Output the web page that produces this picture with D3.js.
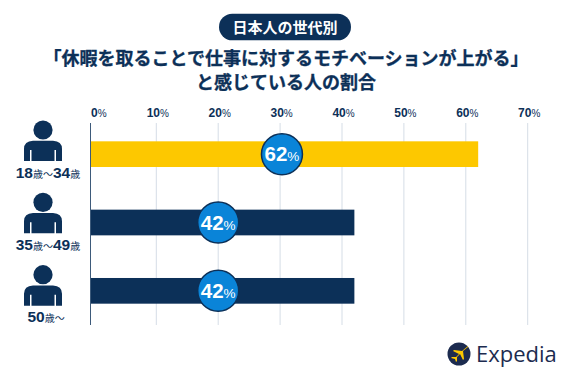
<!DOCTYPE html>
<html>
<head>
<meta charset="utf-8">
<script src="https://cdn.jsdelivr.net/npm/d3@7"></script>
<style>
  html, body { margin: 0; padding: 0; background: #fff; }
  svg { display: block; }
  text { font-family: "Liberation Sans", "Noto Sans CJK JP", sans-serif; }
  .jp { font-family: "Noto Sans CJK JP", sans-serif; font-weight: 700; }
</style>
</head>
<body>
<svg id="chart" width="570" height="380"></svg>
<script>
const groups = [
  [{t: '18', big: true}, {t: '歳'}, {t: '〜'}, {t: '34', big: true}, {t: '歳'}],
  [{t: '35', big: true}, {t: '歳'}, {t: '〜'}, {t: '49', big: true}, {t: '歳'}],
  [{t: '50', big: true}, {t: '歳'}, {t: '〜'}]
];
const groupIds = ['a', 'b', 'c'];
const values = [62, 42, 42];
const badgeAt = [30.3, 20, 20];
const barColors = ['#fdc800', '#0c3058', '#0c3058'];
const ticks = [0, 10, 20, 30, 40, 50, 60, 70];

const pillText = '日本人の世代別';
const titleLines = ['「休暇を取ることで仕事に対するモチベーションが上がる」', 'と感じている人の割合'];

const navy = '#0c3058';
const svg = d3.select('#chart');

// the 0% line sits a bit left of where it would be, so the first step is wider
const x = d3.scaleLinear().domain([0, 10, 70]).range([90.5, 156.3, 527.7]);
const y = d3.scaleBand().domain(groupIds).range([120, 325]).paddingInner(0.624).paddingOuter(0.312);
// the people are spaced a bit wider than the bars, this is where their feet are
const yPerson = d3.scalePoint().domain(groupIds).range([161, 305.7]);
const plotTop = 123, plotBottom = 325;

// header
svg.append('rect')
  .attr('x', 219).attr('y', 13.7).attr('width', 132).attr('height', 26.6).attr('rx', 13.3)
  .attr('fill', navy);
svg.append('text')
  .attr('class', 'jp')
  .attr('x', 285).attr('y', 32.5)
  .attr('text-anchor', 'middle')
  .attr('font-size', 15)
  .attr('fill', '#fff')
  .text(pillText);
svg.selectAll('.title')
  .data(titleLines)
  .enter()
  .append('text')
  .attr('class', 'title jp')
  .attr('x', 286)
  .attr('y', (d, i) => 65 + i * 24)
  .attr('text-anchor', 'middle')
  .attr('font-size', 18)
  .attr('fill', navy)
  .attr('stroke', navy)
  .attr('stroke-width', 0.3)
  .text(d => d);

// grid
svg.selectAll('.grid')
  .data(ticks.slice(1))
  .enter()
  .append('line')
  .attr('class', 'grid')
  .attr('x1', d => x(d)).attr('x2', d => x(d))
  .attr('y1', plotTop).attr('y2', plotBottom)
  .attr('stroke', '#d5dde6')
  .attr('stroke-width', 1);

// top axis, only the labels are kept
const axis = svg.append('g')
  .attr('transform', `translate(0, ${plotTop})`)
  .call(d3.axisTop(x).tickValues(ticks).tickSize(0).tickPadding(4).tickFormat(''));
axis.select('.domain').remove();
axis.selectAll('.tick text')
  .attr('x', d => d === 0 ? 0 : 1)
  .attr('y', -6)
  .attr('fill', navy)
  .attr('text-anchor', d => d === 0 ? 'start' : 'middle')
  .each(function(d) {
    const t = d3.select(this);
    t.append('tspan').attr('font-size', 12).attr('font-weight', 700).text(d);
    t.append('tspan').attr('font-size', 10).text('%');
  });

// bars
svg.selectAll('.bar')
  .data(values)
  .enter()
  .append('rect')
  .attr('class', 'bar')
  .attr('x', x(0))
  .attr('y', (d, i) => y(groupIds[i]))
  .attr('width', d => x(d) - x(0))
  .attr('height', y.bandwidth())
  .attr('fill', (d, i) => barColors[i]);

svg.append('line')
  .attr('x1', x(0)).attr('x2', x(0))
  .attr('y1', plotTop).attr('y2', plotBottom)
  .attr('stroke', '#3d5a7a')
  .attr('stroke-width', 1);

// badges
const badge = svg.selectAll('.badge')
  .data(values)
  .enter()
  .append('g')
  .attr('class', 'badge')
  .attr('transform', (d, i) => `translate(${x(badgeAt[i])}, ${y(groupIds[i]) + y.bandwidth() / 2})`);
badge.append('circle')
  .attr('r', 20.5)
  .attr('fill', '#0a84d8')
  .attr('stroke', navy)
  .attr('stroke-width', 1.5);
const badgeText = badge.append('text')
  .attr('y', 7)
  .attr('text-anchor', 'middle')
  .attr('fill', '#fff');
badgeText.append('tspan').attr('font-size', 20.5).attr('font-weight', 700).text(d => d);
badgeText.append('tspan').attr('font-size', 13.5).text('%');

// person icons and group labels
const person = svg.selectAll('.person')
  .data(groupIds)
  .enter()
  .append('g')
  .attr('class', 'person')
  .attr('transform', d => `translate(43, ${yPerson(d)})`);
person.append('circle')
  .attr('cy', -31)
  .attr('r', 9.6)
  .attr('fill', navy);
person.append('path')
  .attr('d', 'M-19,0 V-12 Q-19,-20 -10,-20.3 H10 Q19,-20 19,-12 V0 H13 V-11 H11.5 V0 H-11.5 V-11 H-13 V0 Z')
  .attr('fill', navy);
const label = person.append('text')
  .attr('x', (d, i) => i === 2 ? 3 : 5)
  .attr('y', 16.5)
  .attr('text-anchor', 'middle')
  .attr('fill', navy);
label.selectAll('tspan')
  .data((d, i) => groups[i])
  .enter()
  .append('tspan')
  .attr('font-size', d => d.big ? 15.5 : 10)
  .attr('font-weight', d => d.big ? 700 : 400)
  .text(d => d.t);

// logo
const logo = svg.append('g').attr('transform', 'translate(459, 354)');
logo.append('circle').attr('r', 11.5).attr('fill', '#1c2b4f');
logo.append('path')
  .attr('d', 'M9,-8 L3,-3 L-5,-4 L-6,-3 L0,0 L-3,3 L-7,3 L-8,4 L-4,5 L-3,8 L-2,7 L-2,3 L1,0 L4,6 L5,5 L4,-3 L9,-7 Z')
  .attr('fill', '#fdc800');
svg.append('text')
  .attr('x', 476).attr('y', 362)
  .style('font-family', '"Open Sans", sans-serif')
  .attr('font-size', 22)
  .attr('font-weight', 500)
  .attr('fill', '#1c2b4f')
  .text('Expedia');
</script>
</body>
</html>
